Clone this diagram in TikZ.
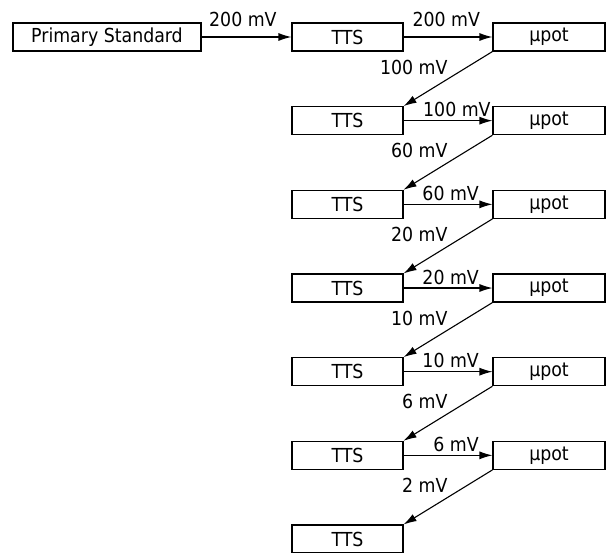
\documentclass[tikz,border=0pt]{standalone}
\usepackage{fontspec}
\setmainfont{DejaVu Sans Condensed}
\usetikzlibrary{arrows.meta}
\begin{document}
\begin{tikzpicture}[x=1pt,y=-1pt,
  box/.style={draw, line width=1.1pt, minimum height=28pt, inner sep=0pt, font=\fontsize{19.3}{22}\selectfont},
  ttsbox/.style={box, minimum width=111pt},
  potbox/.style={box, minimum width=112pt},
  conn/.style={line width=1.1pt, -{Latex[length=13pt,width=8pt]}},
  lab/.style={font=\fontsize{19.3}{22}\selectfont, inner sep=0pt},
]
\useasboundingbox (0,0) rectangle (608,552);
\node[box, minimum width=188pt] (ps) at (107,37) {Primary Standard};
\foreach \k in {0,...,6} {
  \node[ttsbox] (t\k) at (347.5,{37+83.67*\k}) {TTS};
}
\foreach \k in {0,...,5} {
  \node[potbox] (p\k) at (549,{37+83.67*\k}) {µpot};
}
\draw[conn] (ps) -- node[lab, pos=0.46, anchor=south, yshift=10pt] {200 mV} (t0);
% horizontal TTS -> upot
\draw[conn] (t0) -- node[lab, pos=0.48, anchor=south, yshift=10pt] {200 mV} (p0);
\draw[conn] (t1) -- node[lab, pos=0.60, anchor=south, yshift=3pt] {100 mV} (p1);
\draw[conn] (t2) -- node[lab, pos=0.53, anchor=south, yshift=3pt] {60 mV} (p2);
\draw[conn] (t3) -- node[lab, pos=0.53, anchor=south, yshift=3pt] {20 mV} (p3);
\draw[conn] (t4) -- node[lab, pos=0.53, anchor=south, yshift=3pt] {10 mV} (p4);
\draw[conn] (t5) -- node[lab, pos=0.59, anchor=south, yshift=3pt] {6 mV} (p5);
% diagonals upot -> next TTS
\draw[conn] (p0.south west) -- node[lab, midway, anchor=south east, yshift=4pt] {100 mV} (t1.north east);
\draw[conn] (p1.south west) -- node[lab, midway, anchor=south east, yshift=4pt] {60 mV} (t2.north east);
\draw[conn] (p2.south west) -- node[lab, midway, anchor=south east, yshift=4pt] {20 mV} (t3.north east);
\draw[conn] (p3.south west) -- node[lab, midway, anchor=south east, yshift=4pt] {10 mV} (t4.north east);
\draw[conn] (p4.south west) -- node[lab, midway, anchor=south east, yshift=4pt] {6 mV} (t5.north east);
\draw[conn] (p5.south west) -- node[lab, midway, anchor=south east, yshift=4pt] {2 mV} (t6.north east);
\end{tikzpicture}
\end{document}
